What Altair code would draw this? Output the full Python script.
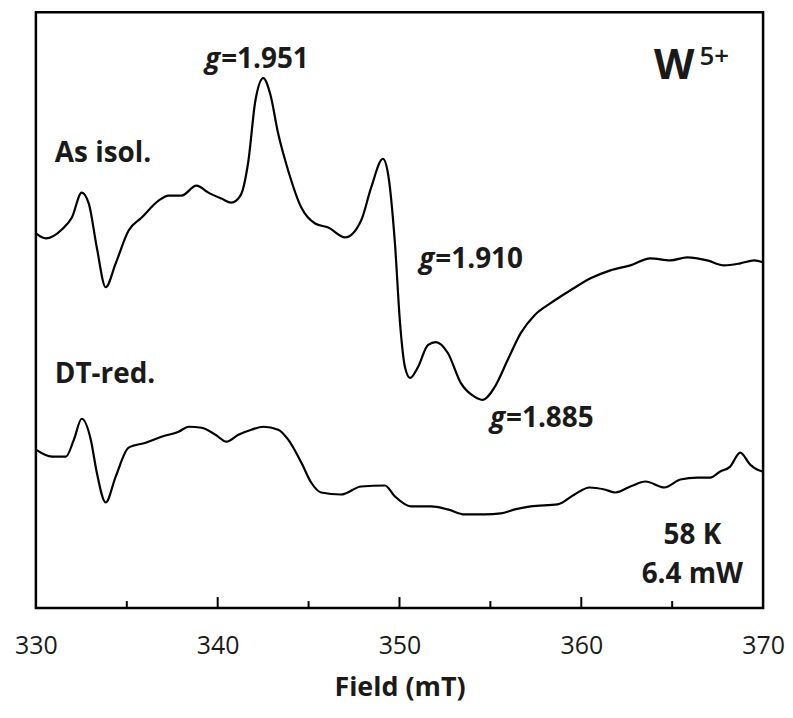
import altair as alt
import pandas as pd

# ---- data (field in mT, EPR signal in arbitrary units) ----
as_isol_field = [330.00, 330.55, 331.43, 331.98, 332.52, 332.91, 333.35, 333.84, 334.39, 335.10,
                 335.82, 336.75, 337.30, 338.01, 338.83, 339.49, 340.21, 340.75, 341.25, 341.69,
                 342.07, 342.51, 342.89, 343.33, 343.88, 344.60, 345.36, 346.08, 347.01, 347.89,
                 348.44, 349.09, 349.37, 349.75, 350.03, 350.30, 350.58, 351.02, 351.56, 352.00,
                 352.66, 353.37, 354.14, 354.58, 355.24, 355.95, 356.67, 357.43, 358.31, 359.41,
                 360.51, 361.60, 362.70, 363.80, 364.90, 365.83, 366.93, 367.86, 368.74, 369.51, 370.00]
as_isol_signal = [374, 369, 378, 390, 415, 404, 360, 320, 344, 377,
                  390, 407, 412, 412, 422, 415, 409, 405, 412, 447,
                  507, 530, 514, 474, 437, 400, 384, 380, 370, 387,
                  420, 449, 434, 364, 284, 240, 229, 240, 262, 265,
                  254, 224, 210, 207, 220, 247, 274, 292, 304, 317,
                  329, 337, 342, 349, 347, 350, 347, 342, 344, 347, 345]

dt_red_field = [330.00, 330.88, 331.65, 332.09, 332.52, 333.02, 333.35, 333.84, 334.39, 335.10,
                336.04, 336.91, 337.85, 338.40, 339.11, 339.88, 340.48, 341.14, 341.85, 342.51,
                343.33, 343.88, 344.60, 345.14, 345.69, 346.79, 347.89, 349.20, 349.75, 350.63,
                351.73, 352.66, 353.59, 354.69, 355.57, 356.34, 357.22, 358.70, 359.63, 360.45,
                361.28, 361.88, 362.70, 363.53, 364.57, 365.45, 366.38, 367.09, 367.64, 368.19,
                368.74, 369.29, 369.67, 370.00]
dt_red_signal = [157, 150, 150, 167, 188, 167, 134, 104, 130, 159,
                 164, 170, 175, 180, 179, 172, 165, 172, 177, 180,
                 177, 167, 144, 124, 114, 112, 120, 121, 110, 100,
                 100, 97, 92, 92, 93, 97, 100, 102, 112, 119,
                 117, 114, 120, 125, 119, 127, 129, 129, 135, 140,
                 154, 142, 137, 135]

major_ticks = [340, 350, 360]
minor_ticks = [335, 345, 355, 365]
x_labels = [330, 340, 350, 360, 370]

FONT = "Open Sans"
TXT = "#1a1a1a"

spectra = pd.concat([
    pd.DataFrame({"field": as_isol_field, "signal": as_isol_signal, "sample": "As isol."}),
    pd.DataFrame({"field": dt_red_field, "signal": dt_red_signal, "sample": "DT-red."}),
])

x_scale = alt.Scale(domain=[330, 370], nice=False, zero=False)
y_scale = alt.Scale(domain=[-2, 596], nice=False, zero=False)

lines = alt.Chart(spectra).mark_line(
    color="black", strokeWidth=2.2, interpolate="monotone"
).encode(
    x=alt.X("field:Q", scale=x_scale,
            axis=alt.Axis(values=x_labels, ticks=False, domain=False, grid=False,
                          labelFlush=False, labelFontSize=25, labelFont=FONT,
                          labelFontWeight=500,
                          labelColor=TXT, labelPadding=26,
                          title="Field (mT)", titleFont=FONT, titleFontSize=27,
                          titleFontWeight="bold", titleColor=TXT, titlePadding=16)),
    y=alt.Y("signal:Q", scale=y_scale, axis=None),
    detail="sample:N",
)

major = alt.Chart(pd.DataFrame({"field": major_ticks})).mark_rule(
    color="black", strokeWidth=2
).encode(x=alt.X("field:Q", scale=x_scale), y=alt.value(598), y2=alt.value(587))

minor = alt.Chart(pd.DataFrame({"field": minor_ticks})).mark_rule(
    color="black", strokeWidth=2
).encode(x=alt.X("field:Q", scale=x_scale), y=alt.value(598), y2=alt.value(591))

# annotations
g_df = pd.DataFrame({"field": [340.19, 351.97, 355.86], "signal": [540, 339, 180]})
gval_df = pd.DataFrame({"field": [340.19, 351.97, 355.86], "signal": [540, 339, 180],
                        "text": ["=1.951", "=1.910", "=1.885"]})
sample_df = pd.DataFrame({"field": [331.04, 331.04], "signal": [446, 224],
                          "text": ["As isol.", "DT-red."]})
cond_df = pd.DataFrame({"field": [366.11, 366.11], "signal": [62, 23],
                        "text": ["58 K", "6.4 mW"]})
w_df = pd.DataFrame({"field": [366.22], "signal": [529], "text": ["W"]})
sup_df = pd.DataFrame({"field": [366.50], "signal": [543], "text": ["5+"]})

def txt(df, **kw):
    base = dict(font=FONT, fontWeight="bold", color=TXT, baseline="alphabetic")
    base.update(kw)
    return alt.Chart(df).mark_text(**base).encode(
        x=alt.X("field:Q", scale=x_scale), y=alt.Y("signal:Q", scale=y_scale),
        text="text:N")

g_text = alt.Chart(g_df).mark_text(
    font=FONT, fontWeight="bold", fontStyle="italic", color=TXT,
    baseline="alphabetic", align="right", fontSize=28, text="g", dx=-1
).encode(x=alt.X("field:Q", scale=x_scale), y=alt.Y("signal:Q", scale=y_scale))

layers = [
    lines, major, minor, g_text,
    txt(gval_df, align="left", fontSize=28),
    txt(sample_df, align="left", fontSize=28),
    txt(cond_df, align="center", fontSize=28),
    txt(w_df, align="right", fontSize=42),
    txt(sup_df, align="left", fontSize=26, fontWeight=600),
]

chart = alt.layer(*layers).properties(
    width=730, height=598,
    background="white",
    autosize=alt.AutoSizeParams(type="none"),
    padding={"left": 28, "top": 3, "right": 22, "bottom": 100},
).configure_view(stroke="black", strokeWidth=2.5)

chart.save("out.html", embed_options={"renderer": "svg", "actions": False})
